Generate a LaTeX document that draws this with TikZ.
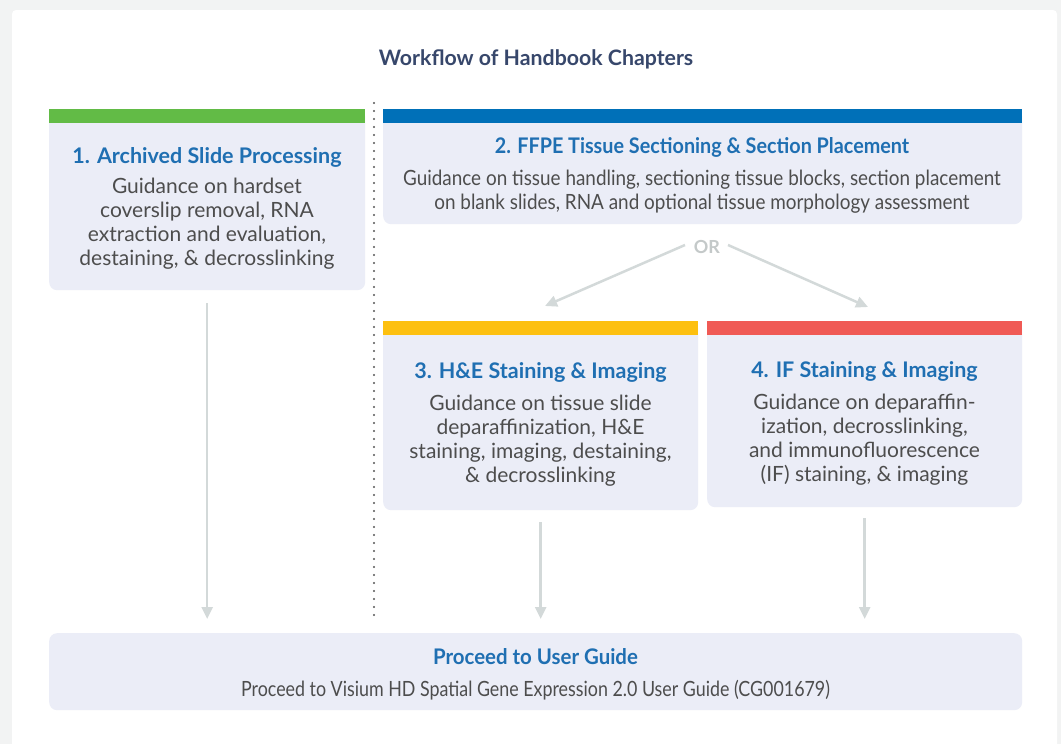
\documentclass[tikz,border=0pt]{standalone}
\usepackage{fontspec}
\setmainfont{Lato}
\newfontfamily\narrowA[FakeStretch=0.90]{Lato}
\newfontfamily\narrowB[FakeStretch=0.85]{Lato}
\newfontfamily\narrowT[FakeStretch=0.92]{Lato}
\newfontfamily\narrowU[FakeStretch=0.95]{Lato}
\usetikzlibrary{arrows.meta}
\definecolor{pagebg}{HTML}{F2F3F3}
\definecolor{boxfill}{HTML}{EBEDF7}
\definecolor{cgreen}{HTML}{62BB46}
\definecolor{cblue}{HTML}{0070B8}
\definecolor{cyellow}{HTML}{FDC010}
\definecolor{cred}{HTML}{F05A55}
\definecolor{ttlblue}{HTML}{1F6FB2}
\definecolor{bodytext}{HTML}{4D4D4D}
\definecolor{heading}{HTML}{37476B}
\definecolor{arrowgray}{HTML}{D3D9D9}
\definecolor{orgray}{HTML}{C4C9C9}
\definecolor{dotgray}{HTML}{555555}
\tikzset{
  card/.style={fill=boxfill, rounded corners=8pt, draw=none, inner sep=0pt, anchor=north west},
  ttl/.style={font=\fontsize{21.5}{24}\selectfont\bfseries, text=ttlblue, inner sep=0pt},
  bodytxt/.style={font=\fontsize{21}{24}\selectfont, text=bodytext, align=center, inner sep=0pt},
  arr/.style={draw=arrowgray, line width=2.5pt, -{Triangle[width=11pt,length=12pt]}},
}
\begin{document}
\begin{tikzpicture}[x=1pt,y=-1pt]
\useasboundingbox (0,0) rectangle (1061,744);
\fill[pagebg] (0,0) rectangle (1061,744);
\fill[white, rounded corners=4pt] (12,10) rectangle (1057,770);

\node[font=\fontsize{21.3}{24}\selectfont\bfseries, text=heading, inner sep=0pt] (head) at (536,59) {Workflow of Handbook Chapters};

% box 1
\node[card, minimum width=316pt, minimum height=181pt] (b1) at (49,109) {};
\fill[cgreen] (b1.north west) rectangle ([yshift=-14pt]b1.north east);
\node[ttl] (t1) at (207,157) {1. Archived Slide Processing};
\node[bodytxt] (d1) at (207,224) {Guidance on hardset\\coverslip removal, RNA\\extraction and evaluation,\\destaining, \& decrosslinking};

% box 2
\node[card, minimum width=639pt, minimum height=115pt] (b2) at (383,109) {};
\fill[cblue] (b2.north west) rectangle ([yshift=-14pt]b2.north east);
\node[ttl, font=\fontsize{21.5}{24}\narrowT\bfseries] (t2) at (702,147) {2. FFPE Tissue Sectioning \& Section Placement};
\node[bodytxt, font=\fontsize{21}{24}\narrowA] (d2) at (702,192) {Guidance on tissue handling, sectioning tissue blocks, section placement\\on blank slides, RNA and optional tissue morphology assessment};

% OR
\node[font=\fontsize{18}{20}\selectfont\bfseries, text=orgray, inner sep=0pt] (or) at (707,247) {OR};

% box 3
\node[card, minimum width=315pt, minimum height=189pt] (b3) at (383,321) {};
\fill[cyellow] (b3.north west) rectangle ([yshift=-14pt]b3.north east);
\node[ttl] (t3) at (540.5,372) {3. H\&E Staining \& Imaging};
\node[bodytxt] (d3) at (540.5,441) {Guidance on tissue slide\\deparaffinization, H\&E\\staining, imaging, destaining,\\\& decrosslinking};

% box 4
\node[card, minimum width=315pt, minimum height=186pt] (b4) at (707,321) {};
\fill[cred] (b4.north west) rectangle ([yshift=-14pt]b4.north east);
\node[ttl] (t4) at (864.5,371) {4. IF Staining \& Imaging};
\node[bodytxt] (d4) at (864.5,439.5) {Guidance on deparaffin-\\ization, decrosslinking,\\and immunofluorescence\\(IF) staining, \& imaging};

% bottom box
\node[card, minimum width=973pt, minimum height=77pt] (bot) at (49,633) {};
\node[ttl, font=\fontsize{21.5}{24}\narrowU\bfseries] (t5) at (535.5,657) {Proceed to User Guide};
\node[bodytxt, font=\fontsize{21}{24}\narrowB] (d5) at (535.5,690) {Proceed to Visium HD Spatial Gene Expression 2.0 User Guide (CG001679)};

% dotted separator
\coordinate (dtop) at (374,103);
\coordinate (dbot) at (374,620);
\draw[dotgray, line width=2.4pt, line cap=round, dash pattern=on 0pt off 8pt] (dtop) -- (dbot);

% OR arrows
\coordinate (orl) at (685,245);
\coordinate (orr) at (728,245);
\coordinate (al) at (545,306);
\coordinate (ar) at (868,307);
\draw[arr] (orl) -- (al);
\draw[arr] (orr) -- (ar);

% down arrows
\draw[arr, shorten <=13pt, shorten >=14pt] (b1.south) -- (b1.south |- bot.north);
\draw[arr, shorten <=12pt, shorten >=14pt] (b3.south) -- (b3.south |- bot.north);
\draw[arr, shorten <=11pt, shorten >=14pt] (b4.south) -- (b4.south |- bot.north);
\end{tikzpicture}
\end{document}
